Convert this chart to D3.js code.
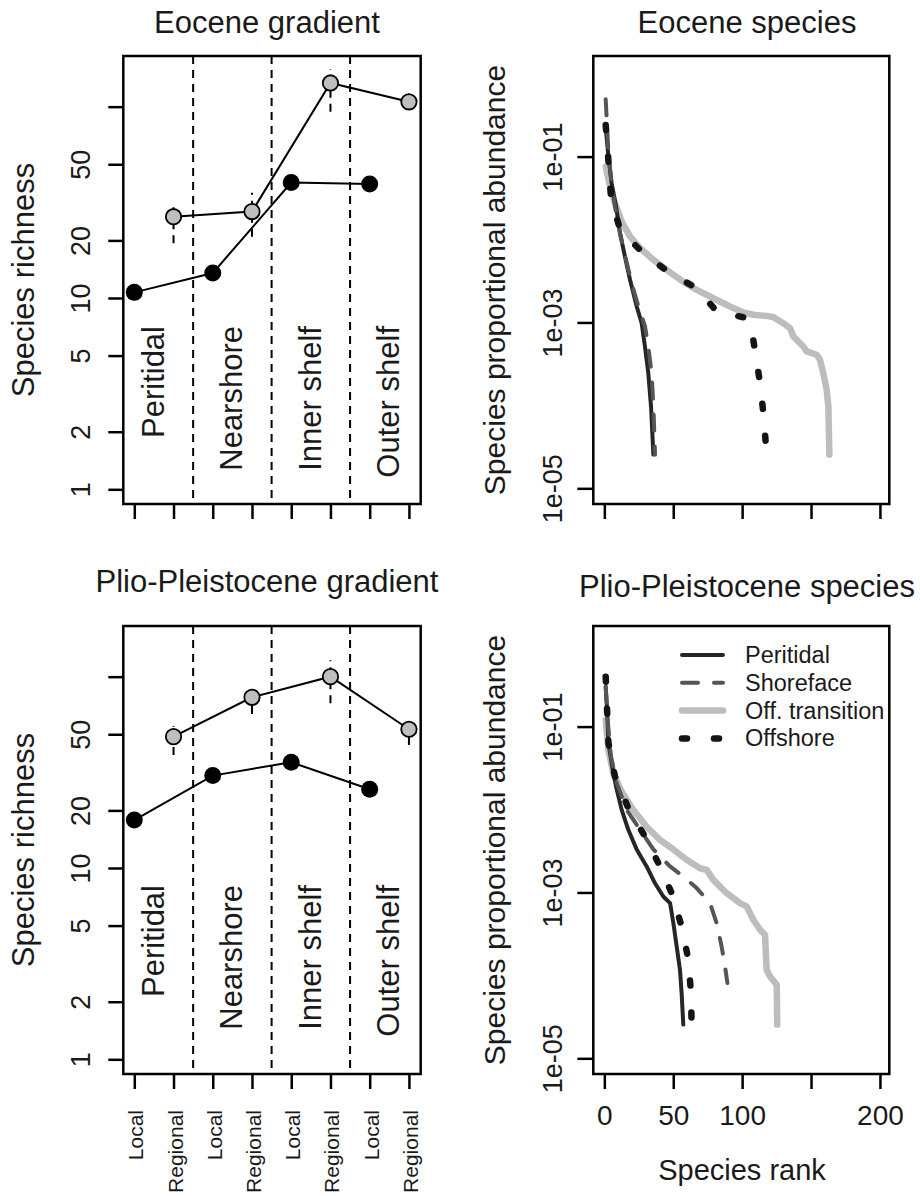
<!DOCTYPE html>
<html>
<head>
<meta charset="utf-8">
<script src="https://cdn.jsdelivr.net/npm/d3@7"></script>
<style>
  body { margin: 0; background: #fff; }
  svg text { font-family: "Liberation Sans", Arial, Helvetica, sans-serif; fill: #1a1a1a; }
</style>
</head>
<body>
<script>
// ---- data ----
var zones = ["Peritidal", "Nearshore", "Inner shelf", "Outer shelf"];
var scaleLabels = ["Local", "Regional", "Local", "Regional", "Local", "Regional", "Local", "Regional"];
var richTicks = [1, 2, 5, 10, 20, 50, 100];
var richTickLabels = ["1", "2", "5", "10", "20", "50", ""];
var abundTicks = [1e-1, 1e-3, 1e-5];
var abundTickLabels = ["1e-01", "1e-03", "1e-05"];
var rankTicks = [0, 50, 100, 150, 200];
var rankTickLabels = ["0", "50", "100", "", "200"];

// Eocene richness (local at positions 1,3,5,7 ; regional at 2,4,6,8)
var eoLocal = [10.7, 13.5, 40.1, 39.4];
var eoRegional = [26.6, 28.3, 133, 106];
var eoRegLo = [19.3, 20.9, 94, 99];
var eoRegHi = [31.3, 35.5, 157, 113];

// Plio-Pleistocene richness
var plLocal = [17.8, 30.4, 35.7, 25.8];
var plRegional = [48.6, 78.0, 100, 53.1];
var plRegLo = [39.0, 63.8, 72.6, 44.0];
var plRegHi = [55, 84, 122, 59.4];

// rank-abundance curves [rank, proportional abundance]
var eoPeritidal = [[1,0.219],[3,0.10],[5.3,0.048],[8.5,0.025],[11.4,0.0119],[15,0.0062],[18.6,0.0033],[23.5,0.00156],[27.1,0.00098],[29.5,0.00051],[31.9,0.000245],[33.9,0.000097],[35.6,0.0000255]];
var eoShoreface = [[1,0.49],[2,0.23],[3,0.11],[5,0.052],[7.7,0.025],[11.4,0.0119],[15.7,0.0057],[19.8,0.0030],[24.7,0.00156],[29.5,0.0009],[31.9,0.00051],[34.3,0.000245],[35.6,0.000097],[36.8,0.0000255]];
var eoOffTrans = [[1,0.0758],[2,0.063],[4.1,0.0435],[7.7,0.0274],[12.6,0.0165],[18.6,0.0109],[25.9,0.0079],[35.6,0.0057],[45.2,0.0043],[54.9,0.0033],[64.6,0.0026],[74.3,0.00215],[83.9,0.00179],[93.6,0.00149],[100.9,0.00132],[108.1,0.00124],[117.8,0.0012],[122.6,0.00116],[129.9,0.00098],[134.7,0.000855],[137.2,0.000678],[144.4,0.000514],[146.8,0.000448],[154.1,0.000408],[156.5,0.000355],[158.9,0.000245],[161.3,0.000155],[162.6,0.000097],[163.3,0.0000255]];
var eoOffshore = [[1,0.241],[2.4,0.12],[4.8,0.033],[11.4,0.0131],[28.3,0.00684],[47.7,0.00393],[67,0.00259],[81.5,0.00136],[103.3,0.00113],[108.1,0.000618],[113,0.000186],[115.4,0.000081],[117.8,0.0000255]];

var plPeritidal = [[1,0.303],[2,0.159],[3,0.063],[5.3,0.0361],[8.5,0.0189],[12.6,0.0099],[17.4,0.0057],[23.5,0.0033],[30.7,0.00206],[36.8,0.00129],[42.8,0.000895],[47.7,0.000743],[50.1,0.000428],[52.5,0.000224],[54.9,0.000117],[56.1,0.0000612],[57.3,0.0000255]];
var plShoreface = [[1,0.303],[2.4,0.12],[4.8,0.0435],[9,0.0208],[16.2,0.0099],[25.9,0.0057],[35.6,0.0033],[47.7,0.00206],[57.3,0.00156],[67,0.00113],[76.7,0.000743],[81.5,0.000428],[85.1,0.000224],[87.6,0.000128],[89.3,0.000081]];
var plOffTrans = [[1,0.12],[3,0.0524],[6.5,0.0274],[12.6,0.0165],[21,0.0099],[30.7,0.0062],[40.4,0.0043],[50.1,0.0033],[59.7,0.00248],[69.4,0.00196],[74.3,0.00187],[79.1,0.00142],[88.8,0.00098],[98.5,0.000743],[103.3,0.000678],[108.1,0.000469],[113,0.000355],[116.6,0.000309],[117.8,0.000117],[120.2,0.000097],[125.1,0.0000773],[125.5,0.0000255]];
var plOffshore = [[1,0.40],[2,0.159],[3,0.063],[7.7,0.025],[17.4,0.0104],[29.5,0.00473],[40.4,0.00206],[48.9,0.00098],[56.1,0.000389],[61,0.000155],[62.7,0.000067],[63.4,0.0000255]];

var curveNames = ["Peritidal", "Shoreface", "Off. transition", "Offshore"];

// ---- layout ----
var W = 920, H = 1196;
var leftX = [123.3, 420.7], rightX = [593.3, 889.3];
var rows = [[56, 504], [626, 1074]];

var curveStyle = {
  "Peritidal":       {color: "#262626", width: 4,   dash: null},
  "Shoreface":       {color: "#555555", width: 4,   dash: "16,16"},
  "Off. transition": {color: "#bdbdbd", width: 6.5, dash: null},
  "Offshore":        {color: "#141414", width: 6.5, dash: "5,27"}
};

var svg = d3.select("body").append("svg")
    .attr("width", W)
    .attr("height", H);

function styleAxis(ax) {
  ax.select(".domain").remove();
  ax.selectAll(".tick line").attr("stroke", "#000").attr("stroke-width", 2.5);
}

function drawGradient(row, local, regional, lo, hi, title, titleY, zoneTop, showLabels) {
  var top = rows[row][0], bottom = rows[row][1];
  var x = d3.scaleLinear().domain([0.72, 8.3]).range(leftX);
  var y = d3.scaleLog().domain([0.838, 184]).range([bottom, top]);
  var g = svg.append("g");

  // zone dividers
  [2.5, 4.5, 6.5].forEach(function(v) {
    g.append("line")
      .attr("x1", x(v)).attr("x2", x(v))
      .attr("y1", top).attr("y2", bottom)
      .attr("stroke", "#000").attr("stroke-width", 2)
      .attr("stroke-dasharray", "8,6");
  });

  zones.forEach(function(z, i) {
    g.append("text")
      .attr("transform", "translate(" + (x(2 * i + 1.5) + 10) + "," + zoneTop + ") rotate(-90)")
      .attr("text-anchor", "end")
      .attr("font-size", 31)
      .text(z);
  });

  // regional error bars
  regional.forEach(function(v, i) {
    g.append("line")
      .attr("x1", x(2 * i + 2)).attr("x2", x(2 * i + 2))
      .attr("y1", y(lo[i])).attr("y2", y(hi[i]))
      .attr("stroke", "#000").attr("stroke-width", 2)
      .attr("stroke-dasharray", "8,6");
  });

  var line = d3.line().x(function(d) { return x(d[0]); }).y(function(d) { return y(d[1]); });
  var localPts = local.map(function(v, i) { return [2 * i + 1, v]; });
  var regPts = regional.map(function(v, i) { return [2 * i + 2, v]; });

  [localPts, regPts].forEach(function(pts) {
    g.append("path").attr("d", line(pts))
      .attr("fill", "none").attr("stroke", "#000").attr("stroke-width", 2);
  });

  g.selectAll(".loc").data(localPts).enter().append("circle")
    .attr("cx", function(d) { return x(d[0]); })
    .attr("cy", function(d) { return y(d[1]); })
    .attr("r", 8.5).attr("fill", "#000");

  g.selectAll(".reg").data(regPts).enter().append("circle")
    .attr("cx", function(d) { return x(d[0]); })
    .attr("cy", function(d) { return y(d[1]); })
    .attr("r", 7.7).attr("fill", "#bebebe")
    .attr("stroke", "#000").attr("stroke-width", 1.8);

  g.append("rect")
    .attr("x", leftX[0]).attr("y", top)
    .attr("width", leftX[1] - leftX[0]).attr("height", bottom - top)
    .attr("fill", "none").attr("stroke", "#000").attr("stroke-width", 2.5);

  // y axis
  var ya = g.append("g").attr("transform", "translate(" + leftX[0] + ",0)")
    .call(d3.axisLeft(y).tickValues(richTicks).tickSize(15)
      .tickFormat(function(d, i) { return richTickLabels[i]; }));
  styleAxis(ya);
  ya.selectAll(".tick text")
    .attr("transform", "rotate(-90)")
    .attr("x", 0).attr("y", -33).attr("dy", 0)
    .attr("text-anchor", "middle")
    .attr("font-size", 27).attr("font-family", null).attr("fill", "#1a1a1a");

  // x axis
  var xa = g.append("g").attr("transform", "translate(0," + bottom + ")")
    .call(d3.axisBottom(x).tickValues(d3.range(1, 9)).tickSize(15)
      .tickFormat(function(d) { return scaleLabels[d - 1]; }));
  styleAxis(xa);
  if (showLabels) {
    xa.selectAll(".tick text")
      .attr("transform", "rotate(-90)")
      .attr("x", -36).attr("y", 8.5).attr("dy", 0)
      .attr("text-anchor", "end")
      .attr("font-size", 21).attr("font-family", null).attr("fill", "#1a1a1a");
  } else {
    xa.selectAll(".tick text").remove();
  }

  svg.append("text")
    .attr("x", 267).attr("y", titleY)
    .attr("text-anchor", "middle").attr("font-size", 31)
    .text(title);

  svg.append("text")
    .attr("transform", "translate(34," + ((top + bottom) / 2) + ") rotate(-90)")
    .attr("text-anchor", "middle").attr("font-size", 31)
    .text("Species richness");
}

function drawRanks(row, series, title, titleY, showLabels, showLegend) {
  var top = rows[row][0], bottom = rows[row][1];
  var x = d3.scaleLinear().domain([-8, 206.8]).range(rightX);
  var y = d3.scaleLog().domain([Math.pow(10, -5.189), Math.pow(10, 0.213)]).range([bottom, top]);
  var g = svg.append("g");

  var line = d3.line().x(function(d) { return x(d[0]); }).y(function(d) { return y(d[1]); });

  // light grey curve underneath, others on top
  var order = [2, 0, 1, 3];
  order.forEach(function(k) {
    var st = curveStyle[curveNames[k]];
    g.append("path").attr("d", line(series[k]))
      .attr("fill", "none")
      .attr("stroke", st.color).attr("stroke-width", st.width)
      .attr("stroke-linecap", "round").attr("stroke-linejoin", "round")
      .attr("stroke-dasharray", st.dash);
  });

  g.append("rect")
    .attr("x", rightX[0]).attr("y", top)
    .attr("width", rightX[1] - rightX[0]).attr("height", bottom - top)
    .attr("fill", "none").attr("stroke", "#000").attr("stroke-width", 2.5);

  var ya = g.append("g").attr("transform", "translate(" + rightX[0] + ",0)")
    .call(d3.axisLeft(y).tickValues(abundTicks).tickSize(16)
      .tickFormat(function(d, i) { return abundTickLabels[i]; }));
  styleAxis(ya);
  ya.selectAll(".tick text")
    .attr("transform", "rotate(-90)")
    .attr("x", 0).attr("y", -31).attr("dy", 0)
    .attr("text-anchor", "middle")
    .attr("font-size", 27).attr("font-family", null).attr("fill", "#1a1a1a");

  var xa = g.append("g").attr("transform", "translate(0," + bottom + ")")
    .call(d3.axisBottom(x).tickValues(rankTicks).tickSize(15)
      .tickFormat(function(d, i) { return rankTickLabels[i]; }));
  styleAxis(xa);
  if (showLabels) {
    xa.selectAll(".tick text")
      .attr("y", 51).attr("dy", 0)
      .attr("font-size", 28).attr("font-family", null).attr("fill", "#1a1a1a");
    svg.append("text")
      .attr("x", 742).attr("y", 1180)
      .attr("text-anchor", "middle").attr("font-size", 29)
      .text("Species rank");
  } else {
    xa.selectAll(".tick text").remove();
  }

  if (showLegend) {
    var lg = g.append("g");
    curveNames.forEach(function(name, i) {
      var st = curveStyle[name];
      var ly = top + 29 + i * 27.8;
      lg.append("line")
        .attr("x1", 682).attr("x2", 723).attr("y1", ly).attr("y2", ly)
        .attr("stroke", st.color).attr("stroke-width", st.width)
        .attr("stroke-linecap", "round")
        .attr("stroke-dasharray", st.dash);
      lg.append("text")
        .attr("x", 745).attr("y", ly)
        .attr("dominant-baseline", "central")
        .attr("font-size", 23.5)
        .text(name);
    });
  }

  svg.append("text")
    .attr("x", 747).attr("y", titleY)
    .attr("text-anchor", "middle").attr("font-size", 31)
    .text(title);

  svg.append("text")
    .attr("transform", "translate(505," + ((top + bottom) / 2) + ") rotate(-90)")
    .attr("text-anchor", "middle").attr("font-size", 30)
    .text("Species proportional abundance");
}

drawGradient(0, eoLocal, eoRegional, eoRegLo, eoRegHi, "Eocene gradient", 33, 326, false);
drawGradient(1, plLocal, plRegional, plRegLo, plRegHi, "Plio-Pleistocene gradient", 592, 885, true);
drawRanks(0, [eoPeritidal, eoShoreface, eoOffTrans, eoOffshore], "Eocene species", 33, false, false);
drawRanks(1, [plPeritidal, plShoreface, plOffTrans, plOffshore], "Plio-Pleistocene species", 597, true, true);
</script>
</body>
</html>
